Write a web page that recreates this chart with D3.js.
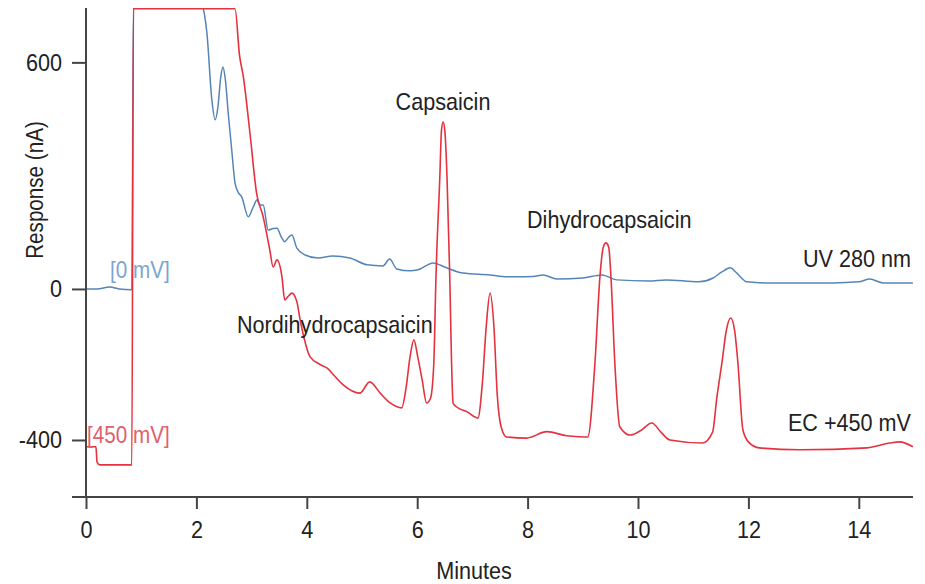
<!DOCTYPE html>
<html>
<head>
<meta charset="utf-8">
<script src="https://cdn.jsdelivr.net/npm/d3@7"></script>
<style>
  html, body { margin: 0; padding: 0; background: #fff; }
  svg { display: block; }
  text { font-family: "Liberation Sans", Arial, sans-serif; fill: #222; }
</style>
</head>
<body>
<svg id="chart" width="925" height="584"></svg>
<script>
// UV 280 nm trace (minutes, nA)
const uvTime = [0, 0.2, 0.43, 0.6, 0.83, 0.86, 2.05, 2.12, 2.19, 2.28, 2.34, 2.39, 2.44, 2.48, 2.52, 2.58, 2.64, 2.70, 2.76, 2.82,
  2.94, 3.03, 3.10, 3.15, 3.21, 3.30, 3.39, 3.46, 3.53, 3.60, 3.66, 3.73, 3.82, 3.97, 4.2, 4.47, 4.78, 5.09, 5.38, 5.5,
  5.63, 5.87, 6.0, 6.29, 6.53, 6.83, 7.32, 7.62, 7.8, 8.1, 8.28, 8.53, 9.0, 9.35, 9.61, 10.2, 10.5, 11.1, 11.36, 11.52,
  11.67, 11.79, 11.97, 12.33, 12.93, 13.53, 14.0, 14.2, 14.44, 14.98];
const uvResp = [0, 0, 5, 0, -2, 760, 760, 744, 678, 500, 448, 482, 560, 588, 560, 460, 368, 280, 255, 244,
  191, 217, 236, 222, 222, 156, 160, 161, 140, 125, 135, 143, 108, 90, 82, 87, 82, 64, 61, 79,
  53, 48, 50, 69, 56, 42, 37, 32, 32, 33, 37, 26, 29, 37, 24, 21, 24, 19, 29, 45,
  56, 42, 19, 16, 16, 16, 19, 26, 16, 16];

// EC +450 mV trace (minutes, nA)
const ecTime = [0, 0.18, 0.2, 0.25, 0.83, 0.86, 2.70, 2.78, 2.85, 2.97, 3.09, 3.21, 3.33, 3.39, 3.46, 3.55, 3.60, 3.66, 3.73, 3.82,
  3.88, 3.95, 4.06, 4.24, 4.37, 4.5, 4.66, 4.96, 5.14, 5.33, 5.51, 5.72, 5.80, 5.87, 5.94, 6.01, 6.09, 6.17, 6.24, 6.30,
  6.34, 6.41, 6.44, 6.47, 6.50, 6.54, 6.59, 6.62, 6.65, 6.71, 6.9, 7.1, 7.18, 7.25, 7.32, 7.39, 7.45, 7.52, 7.62, 7.98,
  8.35, 8.71, 9.02, 9.09, 9.22, 9.31, 9.37, 9.42, 9.47, 9.51, 9.58, 9.67, 9.86, 10.05, 10.25, 10.42, 10.58, 11.17, 11.35, 11.43,
  11.52, 11.6, 11.68, 11.75, 11.81, 11.9, 12.0, 12.2, 12.93, 14.15, 14.56, 14.74, 14.98];
const ecResp = [-418, -418, -458, -466, -466, 742, 742, 620, 562, 413, 254, 191, 103, 58, 77, 32, -29, -20, -11, -34,
  -82, -130, -180, -200, -210, -230, -254, -276, -246, -276, -302, -315, -260, -180, -135, -180, -241, -302, -290, -200,
  32, 297, 420, 442, 420, 297, 32, -180, -302, -312, -325, -342, -250, -100, -11, -100, -280, -365, -392, -395,
  -378, -389, -392, -392, -196, 32, 110, 122, 110, 32, -196, -365, -387, -375, -355, -380, -400, -408, -380, -286,
  -196, -110, -77, -110, -196, -373, -405, -421, -426, -421, -408, -405, -418];

const xTicks = [0, 2, 4, 6, 8, 10, 12, 14];
const yTicks = [600, 0, -400];

const peakLabels = [
  { text: 'Capsaicin', x: 443, y: 110, anchor: 'middle' },
  { text: 'Dihydrocapsaicin', x: 527, y: 228, anchor: 'start' },
  { text: 'Nordihydrocapsaicin', x: 237, y: 333, anchor: 'start' },
  { text: 'UV 280 nm', x: 911, y: 267, anchor: 'end' },
  { text: 'EC +450 mV', x: 911, y: 431, anchor: 'end' }
];

const svg = d3.select('#chart');
const plotBox = { left: 86, right: 914, top: 8, bottom: 497 };
const squeeze = 0.9; // the original lettering is a condensed face

const x = d3.scaleLinear().domain([0, 15]).range([plotBox.left, plotBox.right]);
const y = d3.scaleLinear().domain([-551, 744]).range([plotBox.bottom, plotBox.top]);

svg.append('clipPath').attr('id', 'plot-clip')
  .append('rect')
  .attr('x', plotBox.left).attr('y', plotBox.top)
  .attr('width', plotBox.right - plotBox.left).attr('height', plotBox.bottom - plotBox.top);

const line = d3.line()
  .x(d => x(d[0]))
  .y(d => y(d[1]))
  .curve(d3.curveMonotoneX);

const plot = svg.append('g').attr('clip-path', 'url(#plot-clip)');

plot.append('path')
  .datum(uvTime.map((t, i) => [t, uvResp[i]]))
  .attr('fill', 'none')
  .attr('stroke', '#5585b8')
  .attr('stroke-width', 1.5)
  .attr('d', line);

plot.append('path')
  .datum(ecTime.map((t, i) => [t, ecResp[i]]))
  .attr('fill', 'none')
  .attr('stroke', '#e4323e')
  .attr('stroke-width', 1.6)
  .attr('d', line);

// Axes
const xAxis = svg.append('g')
  .attr('transform', `translate(0,${plotBox.bottom})`)
  .call(d3.axisBottom(x).tickValues(xTicks).tickFormat(d => String(d))
    .tickSize(12).tickSizeOuter(0).tickPadding(12));
xAxis.select('.domain').remove();
xAxis.append('line')
  .attr('x1', 72).attr('x2', 913)
  .attr('stroke', '#444').attr('stroke-width', 2);
xAxis.selectAll('.tick line').attr('stroke', '#444').attr('stroke-width', 2);
xAxis.selectAll('.tick text')
  .style('font-family', '"Liberation Sans", Arial, sans-serif')
  .style('font-size', '24px').style('fill', '#222')
  .attr('transform', `scale(${squeeze},1)`);

const yAxis = svg.append('g')
  .attr('transform', `translate(${plotBox.left},0)`)
  .call(d3.axisLeft(y).tickValues(yTicks).tickFormat(d => String(d))
    .tickSize(14).tickSizeOuter(0).tickPadding(10));
yAxis.select('.domain').remove();
yAxis.append('line')
  .attr('y1', plotBox.top).attr('y2', plotBox.bottom)
  .attr('stroke', '#444').attr('stroke-width', 2);
yAxis.selectAll('.tick line').attr('stroke', '#444').attr('stroke-width', 2);
yAxis.selectAll('.tick text')
  .style('font-family', '"Liberation Sans", Arial, sans-serif')
  .style('font-size', '24px').style('fill', '#222')
  .attr('x', -24 / squeeze)
  .attr('transform', `scale(${squeeze},1)`);

// text helper: place at (x, y) and squeeze horizontally
function addText(parent, tx, ty, str, anchor, size, color, k) {
  return parent.append('text')
    .attr('transform', `translate(${tx},${ty}) scale(${k},1)`)
    .attr('text-anchor', anchor)
    .style('font-size', size + 'px')
    .style('fill', color)
    .text(str);
}

// Axis titles
svg.append('text')
  .attr('transform', 'translate(43,190) rotate(-90) scale(0.86,1)')
  .attr('text-anchor', 'middle')
  .style('font-size', '24px')
  .text('Response (nA)');

addText(svg, 474, 579, 'Minutes', 'middle', 24, '#222', squeeze);

// Peak and trace labels
const labelG = svg.append('g');
peakLabels.forEach(d => addText(labelG, d.x, d.y, d.text, d.anchor, 24, '#222', squeeze));

// Potential labels
addText(svg, 110, 278, '[0 mV]', 'start', 23, '#7ba5cf', squeeze);
addText(svg, 87, 443, '[450 mV]', 'start', 23, '#e0606c', squeeze);
</script>
</body>
</html>
